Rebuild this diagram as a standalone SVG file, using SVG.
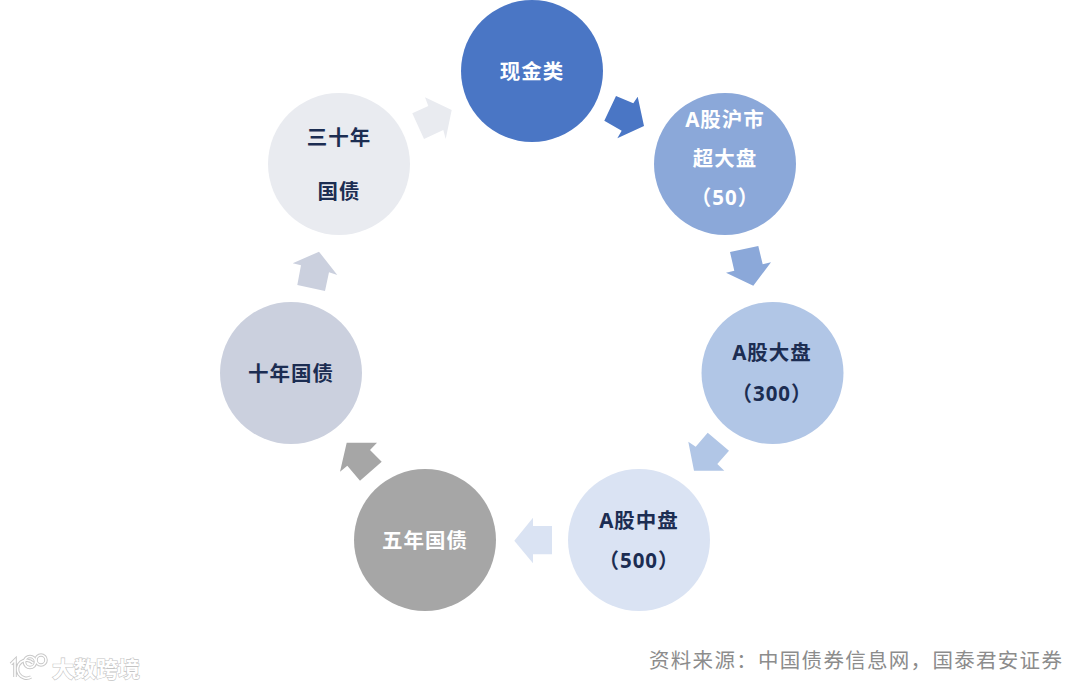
<svg xmlns="http://www.w3.org/2000/svg" width="1080" height="688" viewBox="0 0 1080 688">
<style>
.t{font-family:"Noto Sans","Noto Sans CJK SC",sans-serif;font-weight:700;font-size:20.5px;text-anchor:middle;letter-spacing:1px}
.w{fill:#fff}.d{fill:#1c2d52}
.s{font-family:"Noto Sans CJK SC",sans-serif;font-size:20.5px;fill:#8c8c8c;letter-spacing:1.3px}
.m{font-family:"Noto Sans CJK SC",sans-serif;font-size:22px;font-weight:700;fill:#fff;stroke:#c4c4c4;stroke-width:1.2px;paint-order:stroke}
.l{fill:none;stroke:#c8c8c8;stroke-width:3.6px}.l2{fill:none;stroke:#fff;stroke-width:1.6px}
</style>
<rect width="1080" height="688" fill="#fff"/>
<g id="connectors">
<polygon fill="#4a76c5" points="616,96 633.3,103.3 637.7,96.7 644,126 617.3,138.3 621.7,130.7 604.3,120.7"/>
<polygon fill="#8ba8d9" points="730,252 758.3,246 762.7,264.3 771,262.3 753.3,285.7 726,272.7 734.3,270.7"/>
<polygon fill="#b1c6e6" points="707.7,432.7 729,450.7 717.3,464 724.3,470.7 694,470.7 688.3,441.7 695.7,446.7"/>
<polygon fill="#dae3f3" points="552,526 533,526 533,517.7 514.3,540.7 533,563.3 533,554.3 552,554.3"/>
<polygon fill="#a6a6a6" points="381.7,461.7 370,450 377,442.7 346.7,442.7 340,471.7 347.3,465.7 360,480.7"/>
<polygon fill="#cbd0de" points="297.3,285 325,291 329,272.3 337.3,275 319,251.7 292.7,263.3 301,265.3"/>
<polygon fill="#e9ebf0" points="412.3,113.3 424,139 443.3,130 445.7,139 451.7,110 425,97.3 428.3,106"/>
</g>
<g id="n1"><circle cx="532" cy="71" r="71" fill="#4a76c5"/><text class="t w" x="532" y="79">现金类</text></g>
<g id="n2"><circle cx="725" cy="164" r="71" fill="#8ba8d9"/><text class="t w" x="725" y="127">A股沪市</text><text class="t w" x="725" y="166">超大盘</text><text class="t w" x="725" y="205">（50）</text></g>
<g id="n3"><circle cx="772.5" cy="373" r="71" fill="#b1c6e6"/><text class="t d" x="772" y="360">A股大盘</text><text class="t d" x="772" y="401">（300）</text></g>
<g id="n4"><circle cx="639" cy="540" r="71" fill="#dae3f3"/><text class="t d" x="639" y="528">A股中盘</text><text class="t d" x="639" y="568">（500）</text></g>
<g id="n5"><circle cx="425" cy="540" r="71" fill="#a6a6a6"/><text class="t w" x="425" y="548">五年国债</text></g>
<g id="n6"><circle cx="291" cy="373" r="71" fill="#cbd0de"/><text class="t d" x="291" y="381">十年国债</text></g>
<g id="n7"><circle cx="339" cy="164" r="71" fill="#e9ebf0"/><text class="t d" x="339" y="145">三十年</text><text class="t d" x="339" y="199">国债</text></g>
<text class="s" x="649" y="668">资料来源：中国债券信息网，国泰君安证券</text>
<g id="watermark">
<path class="l" d="M11 664l4-4v17M33 663a9 9 0 1 0 -2 14"/><circle class="l" cx="30" cy="662" r="5.5"/><circle class="l" cx="41" cy="660" r="5"/>
<path class="l2" d="M11 664l4-4v17M33 663a9 9 0 1 0 -2 14"/><circle class="l2" cx="30" cy="662" r="5.5"/><circle class="l2" cx="41" cy="660" r="5"/>
<text class="m" x="52" y="677">大数跨境</text>
</g>
</svg>
